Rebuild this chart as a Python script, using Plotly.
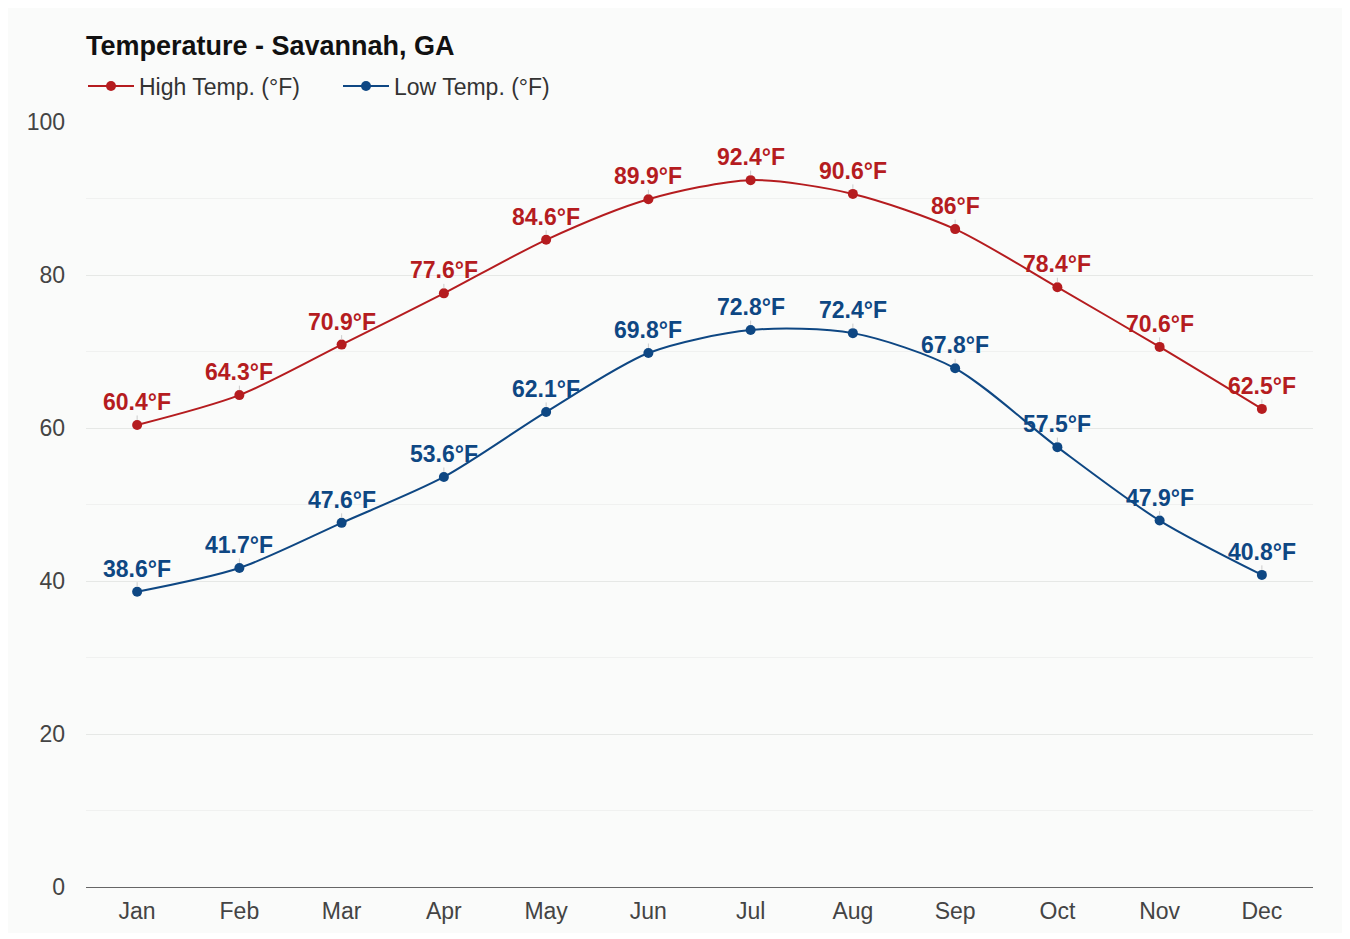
import plotly.graph_objects as go

months = ["Jan", "Feb", "Mar", "Apr", "May", "Jun", "Jul", "Aug", "Sep", "Oct", "Nov", "Dec"]
high_f = [60.4, 64.3, 70.9, 77.6, 84.6, 89.9, 92.4, 90.6, 86, 78.4, 70.6, 62.5]
low_f = [38.6, 41.7, 47.6, 53.6, 62.1, 69.8, 72.8, 72.4, 67.8, 57.5, 47.9, 40.8]
y_ticks = [0, 20, 40, 60, 80, 100]

RED = "#b51c1f"
BLUE = "#0e4783"
BG = "#fafbfa"
FONT = "Liberation Sans, Arial, sans-serif"

W, H = 1334, 925
L, T, R, B = 78, 114, 29, 46
plot_h = H - T - B

fig = go.Figure()
for name, vals, col in [("High Temp. (°F)", high_f, RED), ("Low Temp. (°F)", low_f, BLUE)]:
    fig.add_trace(go.Scatter(
        x=months, y=vals, name=name, mode="lines+markers",
        line=dict(color=col, width=2, shape="spline", smoothing=0.8),
        marker=dict(color=col, size=10),
    ))
    for m, v in zip(months, vals):
        fig.add_annotation(
            x=m, y=v, text=f"{v:g}°F", showarrow=True, arrowhead=0,
            arrowwidth=1, arrowcolor="#cccccc", ax=0, ay=-23, standoff=5,
            font=dict(family=FONT, size=23, color=col, weight="bold"),
            borderpad=0,
        )

fig.update_layout(
    width=W, height=H,
    paper_bgcolor=BG, plot_bgcolor=BG,
    margin=dict(l=L, r=R, t=T, b=B),
    font=dict(family=FONT, size=23, color="#444"),
    title=dict(text="<b>Temperature - Savannah, GA</b>", x=L / W, xanchor="left",
               y=1 - 38 / H, yanchor="middle",
               font=dict(family=FONT, size=27, color="#111")),
    legend=dict(orientation="h", x=-3 / (W - L - R), xanchor="left", y=1 + 36 / plot_h, yanchor="middle",
                font=dict(family=FONT, size=23, color="#333"), bgcolor="rgba(0,0,0,0)",
                itemwidth=46, entrywidth=194, entrywidthmode="pixels", traceorder="normal"),
    showlegend=True,
)
fig.update_xaxes(range=[-0.5, 11.5], showgrid=False, showline=True, linecolor="#666",
                 linewidth=1, ticks="", ticklabelstandoff=3, automargin=False,
                 tickfont=dict(size=23, color="#444"), fixedrange=True)
fig.update_yaxes(range=[0, 100], tickvals=y_ticks, showgrid=True, gridcolor="#e6e8e6",
                 gridwidth=1, zeroline=False, ticks="", ticklabelstandoff=20, automargin=False,
                 tickfont=dict(size=23, color="#444"),
                 minor=dict(dtick=10, showgrid=True, gridcolor="#f0f1f0", gridwidth=1))

fig.write_html("out.html")
